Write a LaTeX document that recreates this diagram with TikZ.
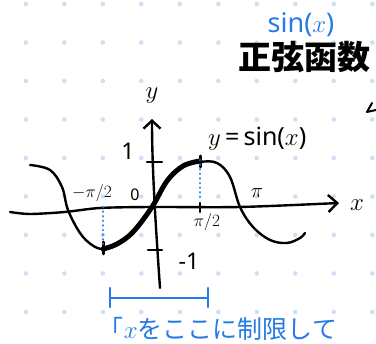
\documentclass[tikz,border=0pt]{standalone}
\usepackage{fontspec}
\setmainfont{Noto Sans}
\newfontfamily\jpfont{Noto Sans CJK JP}
\usetikzlibrary{arrows.meta}
\definecolor{inkblue}{RGB}{38,122,232}
\definecolor{gridblue}{RGB}{206,224,248}
\tikzset{
  ink/.style={line width=2.4pt, line cap=round, line join=round, draw=black},
  thickink/.style={ink, line width=5pt},
  blueink/.style={line width=2.4pt, line cap=round, draw=inkblue},
  dotline/.style={line width=2.6pt, draw=inkblue, dash pattern=on 0.1pt off 4.5pt, line cap=round},
  lbl/.style={inner sep=0pt, font=\fontsize{20}{20}\selectfont},
  bluelbl/.style={lbl, text=inkblue}
}
\begin{document}
\begin{tikzpicture}[x=1pt, y=-1pt]
  \useasboundingbox (0,0) rectangle (376,344);
  \fill[white] (0,0) rectangle (376,344);

  % dot grid of the notebook page
  \foreach \i in {0,...,9}
    \foreach \j in {0,...,8}
      \fill[gridblue] ({25.8+38.5*\i},{4+38.5*\j}) circle (2.3pt);

  % axes
  \coordinate (xstart) at (10,212);
  \coordinate (xend) at (339,203);
  \coordinate (ybot) at (160,288);
  \coordinate (ytop) at (152,119);
  \draw[ink, -{Straight Barb[length=9pt, width=17pt, line width=2.4pt]}]
    plot[smooth] coordinates {(xstart) (30,214) (65,212) (100,208) (152,207) (240,207) (xend)};
  \draw[ink, -{Straight Barb[length=8pt, width=17pt, line width=2.4pt]}]
    (ybot) .. controls (156,230) and (152,170) .. (ytop);

  % ticks
  \draw[ink] (147,162) -- (162,162);
  \draw[ink] (148,250) -- (162,250);
  \draw[ink] (200,203) -- (200,212);

  % sine curve
  \draw[ink] plot[smooth, tension=0.6] coordinates {(30,165) (50,170) (62,187) (68,210) (80,233) (92,245) (103,249) (117,245) (133,233) (152,207) (167,182) (183,167) (200,162) (217,163) (230,177) (240,207) (253,227) (270,240) (287,243) (300,238) (305,233)};
  % restricted part
  \draw[thickink] plot[smooth, tension=0.6] coordinates {(103,249) (117,244) (133,232) (152,207) (167,181) (183,166) (200,161)};
  \draw[ink, line width=3pt] (103,242) -- (103,254);
  \draw[ink, line width=3pt] (200,156) -- (200,167);

  % dotted guides
  \draw[dotline] (200,160) -- (200,201);
  \draw[dotline] (103,207) -- (103,244);

  % labels
  \node[lbl, font=\fontsize{30}{30}\selectfont] (xlab) at (357,205) {$x$};
  \node[lbl, font=\fontsize{27}{27}\selectfont] (ylab) at (152,96) {$y$};
  \node[lbl, font=\fontsize{23}{23}\selectfont] (one) at (128,151) {1};
  \node[lbl, font=\fontsize{23}{23}\selectfont] (mone) at (189,261) {-1};
  \node[lbl, font=\fontsize{16}{16}\selectfont] (zero) at (135,195) {0};
  \node[lbl, font=\fontsize{17}{17}\selectfont] (mhalfpi) at (92,193) {$-\pi/2$};
  \node[lbl, font=\fontsize{17}{17}\selectfont] (halfpi) at (207,222) {$\pi/2$};
  \node[lbl, font=\fontsize{22}{22}\selectfont] (pi) at (257,193) {$\pi$};
  \node[lbl, font=\fontsize{25}{25}\selectfont, anchor=west] (fn) at (208,139) {$y$\,=\,sin($x$)};

  % title
  \node[bluelbl, font=\fontsize{27}{27}\selectfont] (sinx) at (301,25) {sin($x$)};
  \node[lbl, font=\jpfont\bfseries\fontsize{33}{33}\selectfont] (title) at (305,57) {正弦函数};
  \draw[ink, line width=2pt] (372,103) -- (367,112) -- (376,110);

  % domain bracket
  \draw[blueink] (110,298) -- (208,298);
  \draw[blueink] (110,288) -- (110,307);
  \draw[blueink] (208,288) -- (208,307);
  \node[bluelbl, font=\jpfont\fontsize{25}{25}\selectfont] (note) at (218,329) {「$x$をここに制限して};
\end{tikzpicture}
\end{document}
